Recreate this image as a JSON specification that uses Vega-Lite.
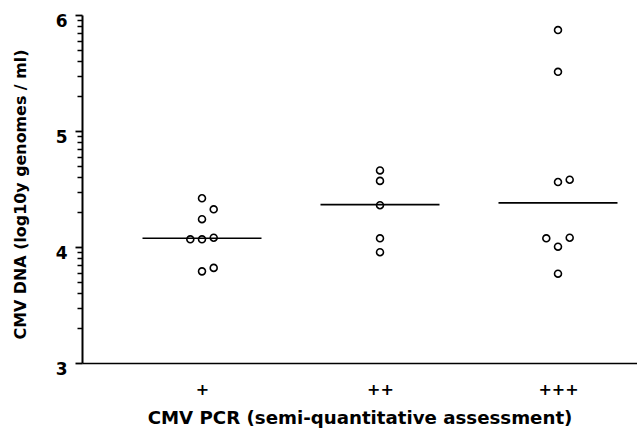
{
  "$schema": "https://vega.github.io/schema/vega-lite/v6.json",
  "width": 555,
  "height": 348,
  "autosize": {"type": "none"},
  "padding": {"left": 82, "top": 15, "right": 0, "bottom": 71},
  "background": "white",
  "config": {
    "view": {"stroke": null},
    "font": "DejaVu Sans"
  },
  "datasets": {
    "points": [
      {"group": "+", "slot": 0, "value": 4.42},
      {"group": "+", "slot": 1, "value": 4.325},
      {"group": "+", "slot": 0, "value": 4.24},
      {"group": "+", "slot": -1, "value": 4.066},
      {"group": "+", "slot": 0, "value": 4.066},
      {"group": "+", "slot": 1, "value": 4.08},
      {"group": "+", "slot": 0, "value": 3.79},
      {"group": "+", "slot": 1, "value": 3.82},
      {"group": "++", "slot": 0, "value": 4.66},
      {"group": "++", "slot": 0, "value": 4.57},
      {"group": "++", "slot": 0, "value": 4.36},
      {"group": "++", "slot": 0, "value": 4.075},
      {"group": "++", "slot": 0, "value": 3.955},
      {"group": "+++", "slot": 0, "value": 5.87},
      {"group": "+++", "slot": 0, "value": 5.51},
      {"group": "+++", "slot": 0, "value": 4.56},
      {"group": "+++", "slot": 1, "value": 4.58},
      {"group": "+++", "slot": -1, "value": 4.075},
      {"group": "+++", "slot": 0, "value": 4.003},
      {"group": "+++", "slot": 1, "value": 4.08},
      {"group": "+++", "slot": 0, "value": 3.77}
    ],
    "medians": [
      {"group": "+", "value": 4.075},
      {"group": "++", "value": 4.365},
      {"group": "+++", "value": 4.38}
    ]
  },
  "encoding": {
    "x": {
      "field": "group", "type": "ordinal", "sort": ["+", "++", "+++"],
      "scale": {"type": "point", "padding": 0.559, "align": 0.603, "domain": ["+", "++", "+++"]},
      "axis": {
        "title": "CMV PCR (semi-quantitative assessment)",
        "titleFont": "DejaVu Sans", "titleFontSize": 18.2, "titleFontWeight": "bold", "titlePadding": 12, "titleColor": "black",
        "labelFont": "DejaVu Sans", "labelFontSize": 16, "labelFontWeight": "bold", "labelPadding": 18, "labelColor": "black",
        "labelAngle": 0, "ticks": false, "domainWidth": 1.5, "domainColor": "black", "grid": false
      }
    }
  },
  "layer": [
    {
      "data": {"name": "points"},
      "mark": {"type": "point", "shape": "circle", "filled": false, "stroke": "black", "strokeWidth": 1.6, "size": 48, "opacity": 1},
      "encoding": {
        "y": {
          "field": "value", "type": "quantitative",
          "scale": {"domain": [3, 6], "nice": false, "zero": false},
          "axis": {
            "orient": "left", "grid": false,
            "title": "CMV DNA (log10y genomes / ml)",
            "titleFont": "DejaVu Sans", "titleFontSize": 15.9, "titleFontWeight": "bold", "titlePadding": 27, "titleColor": "black", "titleY": 179,
            "labelFont": "DejaVu Sans", "labelFontSize": 17, "labelFontWeight": "bold", "labelPadding": 8, "labelColor": "black",
            "labelBaseline": "top", "labelOffset": -2,
            "values": [3, 4, 5, 6], "format": "d",
            "tickSize": 7, "tickWidth": 1.8, "tickColor": "black",
            "domainWidth": 2, "domainColor": "black"
          }
        },
        "xOffset": {"field": "slot", "type": "quantitative", "scale": {"domain": [-1, 1], "range": [-11.7, 11.7]}}
      }
    },
    {
      "data": {"name": "medians"},
      "mark": {"type": "tick", "orient": "horizontal", "size": 119, "thickness": 1.6, "color": "black", "opacity": 1},
      "encoding": {
        "y": {
          "field": "value", "type": "quantitative",
          "axis": {
            "orient": "left", "grid": false,
            "title": null,
            "labels": false,
            "domain": false,
            "values": [3.301, 3.477, 3.602, 3.699, 3.778, 3.845, 3.903, 3.954, 4.301, 4.477, 4.602, 4.699, 4.778, 4.845, 4.903, 4.954, 5.301, 5.477, 5.602, 5.699, 5.778, 5.845, 5.903, 5.954],
            "tickSize": 5, "tickWidth": 1.5, "tickColor": "black"
          }
        }
      }
    }
  ],
  "resolve": {"axis": {"y": "independent"}}
}
